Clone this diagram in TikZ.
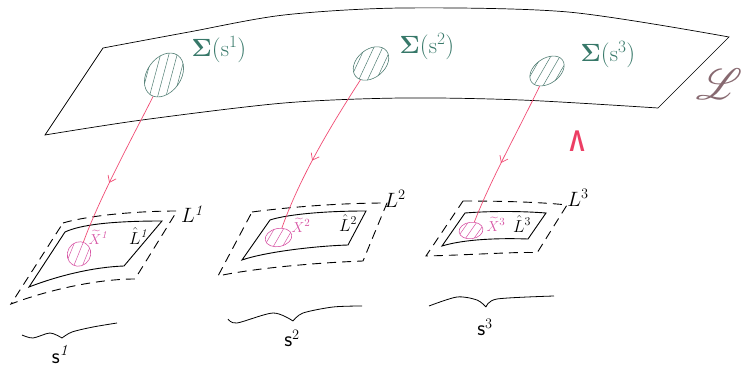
\documentclass[tikz,border=0pt]{standalone}
\usepackage{amsmath}
\usepackage{fontspec}
\usepackage{mathrsfs}
\usetikzlibrary{arrows.meta,calc,decorations.markings,shapes.geometric}

\definecolor{sigmagreen}{RGB}{55,120,105}
\definecolor{ellgreen}{RGB}{80,125,115}
\definecolor{liftpink}{RGB}{240,75,115}
\definecolor{xpink}{RGB}{215,85,165}
\definecolor{scriptmauve}{RGB}{135,105,112}
\definecolor{caretred}{RGB}{236,62,100}

\tikzset{
  sheet/.style={line width=0.7pt},
  patch/.style={line width=0.9pt},
  nbhd/.style={line width=0.9pt, dash pattern=on 9pt off 6pt},
  bracecurve/.style={line width=0.8pt},
  sigell/.style={ellipse, draw=ellgreen, line width=0.6pt, inner sep=0pt},
  xell/.style={ellipse, draw=xpink, line width=0.6pt, inner sep=0pt},
  sighatch/.style 2 args={path picture={
      \foreach \d in {#2}
        \draw[ellgreen, line width=0.5pt] ($(path picture bounding box.center)+(#1-90:\d)$) ++(#1:30) -- ++(#1+180:60);}},
  xhatch/.style 2 args={path picture={
      \foreach \d in {#2}
        \draw[xpink, line width=0.5pt] ($(path picture bounding box.center)+(#1-90:\d)$) ++(#1:30) -- ++(#1+180:60);}},
  lift/.style={liftpink, line width=0.7pt, postaction={decorate},
    decoration={markings, mark=at position #1 with {\arrow{Straight Barb[length=6pt,width=9pt]}}}},
  sigmalabel/.style={sigmagreen, font=\fontsize{23}{26}\selectfont, inner sep=0pt},
  outlabel/.style={font=\fontsize{21}{24}\selectfont, inner sep=0pt},
  hatlabel/.style={font=\fontsize{17}{19}\selectfont, inner sep=0pt},
  xtlabel/.style={xpink, font=\fontsize{15}{17}\selectfont, inner sep=0pt},
  slabel/.style={font=\fontsize{22}{24}\selectfont\sffamily, inner sep=0pt, anchor=base},
}

\begin{document}
\begin{tikzpicture}[x=1pt, y=1pt]
\useasboundingbox (0,0) rectangle (742,367);

% the big sheet
\draw[sheet] plot[smooth] coordinates {(103,319) (189,335) (284,352) (402,359) (568,355) (729,330)}
  -- (658,259)
  -- plot[smooth] coordinates {(658,259) (521,267) (402,269) (284,264) (142,247) (45,232)}
  -- cycle;
\node[scriptmauve, font=\Huge, scale=1.75, inner sep=0pt] (sheetname) at (719,283) {$\mathscr{L}$};
\node[caretred, font=\fontsize{30}{30}\selectfont\fontspec{Liberation Sans}\bfseries, xscale=0.75, inner sep=0pt] (caret) at (577,226) {Λ};

% sections on the sheet
\node[sigell, minimum width=48pt, minimum height=34pt, rotate=55, sighatch={20}{-16,-8,0,8,16}] (sig1) at (164,292) {};
\node[sigell, minimum width=40pt, minimum height=28pt, rotate=40, sighatch={25}{-12,-4,4,12}] (sig2) at (371,303.5) {};
\node[sigell, minimum width=38pt, minimum height=25pt, rotate=35, sighatch={25}{-12,-4,4,12}] (sig3) at (547,296) {};
\node[sigmalabel] (siglab1) at (219,317) {$\boldsymbol{\Sigma}(\mathrm{s}^1)$};
\node[sigmalabel] (siglab2) at (427,320) {$\boldsymbol{\Sigma}(\mathrm{s}^2)$};
\node[sigmalabel] (siglab3) at (608,312) {$\boldsymbol{\Sigma}(\mathrm{s}^3)$};

% local patches
\draw[patch] (65,135) .. controls (80,142) and (110,146) .. (162,146) -- (124,101)
  .. controls (95,100) and (60,92) .. (29,80) -- cycle;
\draw[nbhd] (63,144) .. controls (90,152) and (140,156) .. (177,156) -- (135,88)
  .. controls (95,88) and (45,76) .. (11,63) -- cycle;
\draw[patch] (270,147) .. controls (285,152) and (320,156) .. (366,156) -- (348,122)
  .. controls (315,121) and (265,115) .. (242,107) -- cycle;
\draw[nbhd] (252,155) .. controls (290,160) and (340,164) .. (387,164) -- (363,106)
  .. controls (310,104) and (250,98) .. (218,91) -- cycle;
\draw[patch] (465,154) .. controls (490,156) and (520,156) .. (546,154) -- (528,128)
  .. controls (500,129) and (465,128) .. (442,121) -- cycle;
\draw[nbhd] (463,166) .. controls (500,166) and (540,165) .. (567,162) -- (537,114)
  .. controls (530,116) and (470,112) .. (426,111) -- cycle;

\node[xell, minimum width=25pt, minimum height=23pt, rotate=60, xhatch={8}{-8,0,8}] (xt1) at (79,113) {};
\node[xell, minimum width=27pt, minimum height=18pt, rotate=12, xhatch={48}{-8,0,8}] (xt2) at (278.5,129.5) {};
\node[xell, minimum width=24pt, minimum height=16.5pt, rotate=8, xhatch={47}{-7,0,7}] (xt3) at (471,136.5) {};

\node[outlabel] (out1) at (192,153) {$L^{\mathit{1}}$};
\node[outlabel] (out2) at (395,168) {$L^{2}$};
\node[outlabel] (out3) at (578,169) {$L^{3}$};
\node[hatlabel] (hat1) at (138,131) {$\hat{L}^{\mathit{1}}$};
\node[hatlabel] (hat2) at (348,144) {$\hat{L}^{2}$};
\node[hatlabel] (hat3) at (522,143) {$\hat{L}^{3}$};
\node[xtlabel] (xlab1) at (98,130) {$\widetilde{X}^{\mathit{1}}$};
\node[xtlabel] (xlab2) at (301,142) {$\widetilde{X}^{2}$};
\node[xtlabel] (xlab3) at (496,143) {$\widetilde{X}^{3}$};

% lifts
\draw[lift=0.6] (sig1) .. controls (130,225) and (100,170) .. (xt1);
\draw[lift=0.56] (sig2) .. controls (330,240) and (300,190) .. (xt2);
\draw[lift=0.57] (sig3) .. controls (515,230) and (492,190) .. (xt3);

% braces
\draw[bracecurve] plot[smooth] coordinates {(22,32) (33,29) (50,34) (62,29)};
\draw[bracecurve] plot[smooth] coordinates {(62,29) (72,35) (93,40) (117,44)};
\draw[bracecurve] plot[smooth] coordinates {(228,48) (237,44) (273,54) (293,46)};
\draw[bracecurve] plot[smooth] coordinates {(293,46) (303,54) (333,60) (362,61)};
\draw[bracecurve] plot[smooth] coordinates {(429,61) (457,70) (477,67) (486,60)};
\draw[bracecurve] plot[smooth] coordinates {(486,60) (497,68) (554,71)};
\node[slabel] (s1) at (60,4) {s$^{\mathit{1}}$};
\node[slabel] (s2) at (292,20) {s$^{2}$};
\node[slabel] (s3) at (485,31) {s$^{3}$};
\end{tikzpicture}
\end{document}
